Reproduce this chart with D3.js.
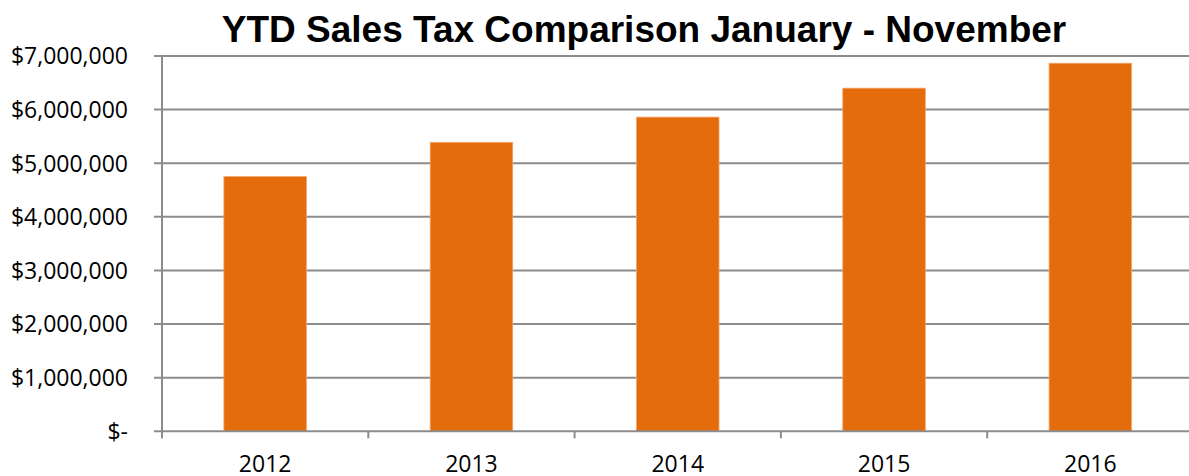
<!DOCTYPE html>
<html lang="en">
<head>
<meta charset="UTF-8" />
<title>YTD Sales Tax Comparison</title>
<style>
  body { margin: 0; background: #fff; }
  svg { display: block; }
  .tick-label { font-family: "Open Sans", sans-serif; font-size: 23px; fill: #000; }
</style>
</head>
<body>
<div id="chart"></div>
<script src="https://d3js.org/d3.v7.min.js"></script>
<script>
// chart data
var years = ["2012", "2013", "2014", "2015", "2016"];
var sales = [4750000, 5390000, 5860000, 6400000, 6865000];
var yTicks = [0, 1000000, 2000000, 3000000, 4000000, 5000000, 6000000, 7000000];
var yTickLabels = ["$-", "$1,000,000", "$2,000,000", "$3,000,000", "$4,000,000", "$5,000,000", "$6,000,000", "$7,000,000"];
var title = "YTD Sales Tax Comparison January - November";

var w = 1189, h = 476;
var plotLeft = 162, plotRight = 1193.5, plotTop = 56, plotBottom = 431.3;
var gridColor = "#8c8c8c";

var svg = d3.select("#chart").append("svg")
  .attr("width", w)
  .attr("height", h);

var x = d3.scaleBand().domain(years).range([plotLeft, plotRight]).padding(0);
var y = d3.scaleLinear().domain([0, 7000000]).range([plotBottom, plotTop]);

// gridlines + y tick marks
svg.append("g").selectAll("line")
  .data(yTicks.slice(1))
  .enter().append("line")
  .attr("x1", 154).attr("x2", w)
  .attr("y1", function(d) { return y(d); })
  .attr("y2", function(d) { return y(d); })
  .attr("stroke", gridColor)
  .attr("stroke-width", 2);

// y tick labels
svg.append("g").selectAll("text")
  .data(yTicks)
  .enter().append("text")
  .attr("class", "tick-label")
  .attr("x", 128)
  .attr("y", function(d) { return y(d); })
  .attr("dy", "0.36em")
  .attr("text-anchor", "end")
  .text(function(d, i) { return yTickLabels[i]; });

// bars
var barW = x.bandwidth() * 0.4;
svg.append("g").selectAll("rect")
  .data(years)
  .enter().append("rect")
  .attr("x", function(d) { return x(d) + (x.bandwidth() - barW) / 2; })
  .attr("y", function(d, i) { return y(sales[i]); })
  .attr("width", barW)
  .attr("height", function(d, i) { return plotBottom - y(sales[i]); })
  .attr("fill", "#e46c0a")
  .attr("stroke", "#f2a46a")
  .attr("stroke-width", 0.8);

// y axis line
svg.append("line")
  .attr("x1", plotLeft).attr("x2", plotLeft)
  .attr("y1", plotTop).attr("y2", plotBottom + 7)
  .attr("stroke", gridColor).attr("stroke-width", 2);

// x axis line + tick marks at band edges
svg.append("line")
  .attr("x1", 154).attr("x2", w)
  .attr("y1", plotBottom).attr("y2", plotBottom)
  .attr("stroke", gridColor).attr("stroke-width", 2);

var edges = years.map(function(d) { return x(d); });
edges.push(plotRight);
svg.append("g").selectAll("line")
  .data(edges)
  .enter().append("line")
  .attr("x1", function(d) { return d; })
  .attr("x2", function(d) { return d; })
  .attr("y1", plotBottom).attr("y2", plotBottom + 7)
  .attr("stroke", gridColor).attr("stroke-width", 2);

// x labels
svg.append("g").selectAll("text")
  .data(years)
  .enter().append("text")
  .attr("class", "tick-label")
  .attr("x", function(d) { return x(d) + x.bandwidth() / 2; })
  .attr("y", 472)
  .attr("text-anchor", "middle")
  .text(function(d) { return d; });

// title
svg.append("text")
  .attr("x", 644)
  .attr("y", 42)
  .attr("text-anchor", "middle")
  .style("font-family", "'Liberation Sans', Arial, sans-serif")
  .style("font-weight", "bold")
  .style("font-size", "37px")
  .text(title);
</script>
</body>
</html>
